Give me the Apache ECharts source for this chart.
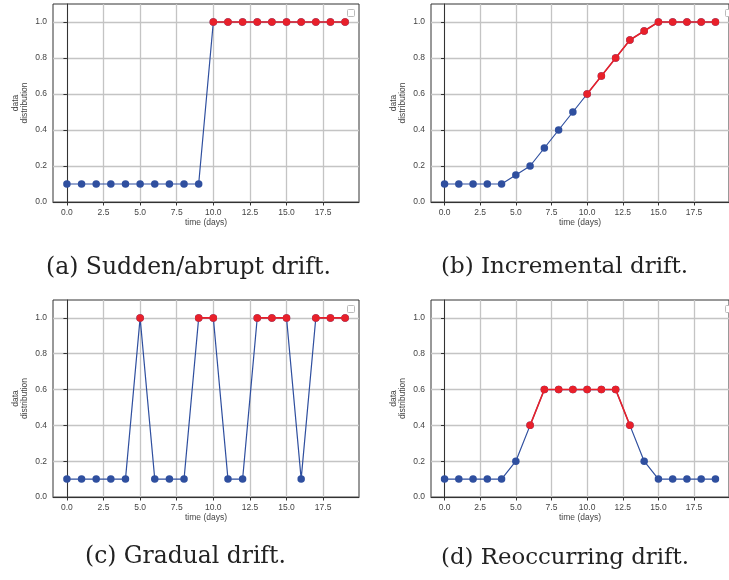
<!DOCTYPE html>
<html>
<head>
<meta charset="utf-8">
<script src="https://cdn.jsdelivr.net/npm/echarts@6/dist/echarts.min.js"></script>
<style>
html,body{margin:0;padding:0;background:#fff;}
#c{width:729px;height:580px;}
</style>
</head>
<body>
<div id="c"></div>
<script>
// ---- data ----
const days = [0,1,2,3,4,5,6,7,8,9,10,11,12,13,14,15,16,17,18,19];
const xTicks = [0, 2.5, 5, 7.5, 10, 12.5, 15, 17.5];
const yTicks = [0, 0.2, 0.4, 0.6, 0.8, 1.0];

const suddenValues = [0.1,0.1,0.1,0.1,0.1,0.1,0.1,0.1,0.1,0.1,1,1,1,1,1,1,1,1,1,1];
const suddenDrift  = [null,null,null,null,null,null,null,null,null,null,1,1,1,1,1,1,1,1,1,1];

const incrementalValues = [0.1,0.1,0.1,0.1,0.1,0.15,0.2,0.3,0.4,0.5,0.6,0.7,0.8,0.9,0.95,1,1,1,1,1];
const incrementalDrift  = [null,null,null,null,null,null,null,null,null,null,0.6,0.7,0.8,0.9,0.95,1,1,1,1,1];

const gradualValues = [0.1,0.1,0.1,0.1,0.1,1,0.1,0.1,0.1,1,1,0.1,0.1,1,1,1,0.1,1,1,1];
const gradualDrift  = [null,null,null,null,null,1,null,null,null,1,1,null,null,1,1,1,null,1,1,1];

const reoccurringValues = [0.1,0.1,0.1,0.1,0.1,0.2,0.4,0.6,0.6,0.6,0.6,0.6,0.6,0.4,0.2,0.1,0.1,0.1,0.1,0.1];
const reoccurringDrift  = [null,null,null,null,null,null,0.4,0.6,0.6,0.6,0.6,0.6,0.6,0.4,null,null,null,null,null,null];

const captions = ['(a) Sudden/abrupt drift.', '(b) Incremental drift.', '(c) Gradual drift.', '(d) Reoccurring drift.'];

// ---- layout ----
const panels = [
  {values: suddenValues, drift: suddenDrift, left: 53, top: 4, height: 198},
  {values: incrementalValues, drift: incrementalDrift, left: 431, top: 4, height: 198},
  {values: gradualValues, drift: gradualDrift, left: 53, top: 300, height: 197},
  {values: reoccurringValues, drift: reoccurringDrift, left: 431, top: 300, height: 197}
];
const captionPos = [
  {x: 46, y: 267.5, w: 285},
  {x: 441, y: 267.5, w: 247},
  {x: 85, y: 557.5, w: 201},
  {x: 441, y: 557.5, w: 248}
];

const BLUE = '#2f4f9f';
const RED = '#e8202a';
const TXT = '#444';
const labelFont = 'Liberation Sans';
const serif = '"DejaVu Serif"';

const grids = [], xAxes = [], yAxes = [], series = [], graphics = [];

panels.forEach((p, i) => {
  grids.push({left: p.left, top: p.top, width: 306, height: p.height, show: true,
    borderColor: '#333', borderWidth: 1, backgroundColor: 'transparent'});
  xAxes.push({
    type: 'value', gridIndex: i, min: -0.95, max: 19.95,
    name: 'time (days)', nameLocation: 'middle', nameGap: 15,
    nameTextStyle: {fontFamily: labelFont, fontSize: 8.5, color: TXT},
    axisLine: {show: true, onZero: false, lineStyle: {color: '#333', width: 1}},
    axisTick: {show: true, length: 3.5, customValues: xTicks, lineStyle: {color: '#333'}},
    axisLabel: {customValues: xTicks, margin: 6, fontFamily: labelFont, fontSize: 8.5, color: TXT,
      formatter: v => Number(v).toFixed(1)},
    splitLine: {show: true, customValues: xTicks, lineStyle: {color: '#c4c4c4', width: 1.3}}
  });
  yAxes.push({
    type: 'value', gridIndex: i, min: 0, max: 1.1,
    name: 'data\ndistribution', nameLocation: 'middle', nameGap: 24,
    nameTextStyle: {fontFamily: labelFont, fontSize: 8.5, lineHeight: 9, color: TXT},
    axisLine: {show: true, lineStyle: {color: '#333', width: 1}},
    axisTick: {show: true, length: 3.5, customValues: yTicks, lineStyle: {color: '#333'}},
    axisLabel: {customValues: yTicks, margin: 6, fontFamily: labelFont, fontSize: 8.5, color: TXT,
      formatter: v => Number(v).toFixed(1)},
    splitLine: {show: true, customValues: yTicks, lineStyle: {color: '#c4c4c4', width: 1.3}}
  });
  series.push({
    type: 'line', xAxisIndex: i, yAxisIndex: i,
    data: days.map((d, k) => [d, p.values[k]]),
    symbol: 'circle', symbolSize: 7.5, showAllSymbol: true,
    lineStyle: {color: BLUE, width: 1.2}, itemStyle: {color: BLUE},
    animation: false, z: 3
  });
  series.push({
    type: 'line', xAxisIndex: i, yAxisIndex: i,
    data: days.map((d, k) => [d, p.drift[k]]),
    symbol: 'circle', symbolSize: 7.5, showAllSymbol: true, connectNulls: false,
    lineStyle: {color: RED, width: 1.6}, itemStyle: {color: RED},
    animation: false, z: 4
  });
  // empty legend box
  graphics.push({type: 'rect', left: p.left + 294, top: p.top + (i < 2 ? 5 : 5),
    shape: {width: 7, height: 7, r: 1},
    style: {fill: '#fff', stroke: '#bbb', lineWidth: 1}, z: 10});
});

const ctx = document.createElement('canvas').getContext('2d');
ctx.font = '100px ' + serif;
captions.forEach((t, i) => {
  const w100 = ctx.measureText(t).width;
  const fs = 100 * captionPos[i].w / w100;
  graphics.push({type: 'text', left: captionPos[i].x, top: captionPos[i].y - fs / 2,
    style: {text: t, font: fs.toFixed(2) + 'px ' + serif, fill: '#222'}});
});

const chart = echarts.init(document.getElementById('c'), null, {renderer: 'canvas'});
chart.setOption({
  animation: false,
  backgroundColor: '#fff',
  grid: grids, xAxis: xAxes, yAxis: yAxes, series: series, graphic: graphics
});
</script>
</body>
</html>
